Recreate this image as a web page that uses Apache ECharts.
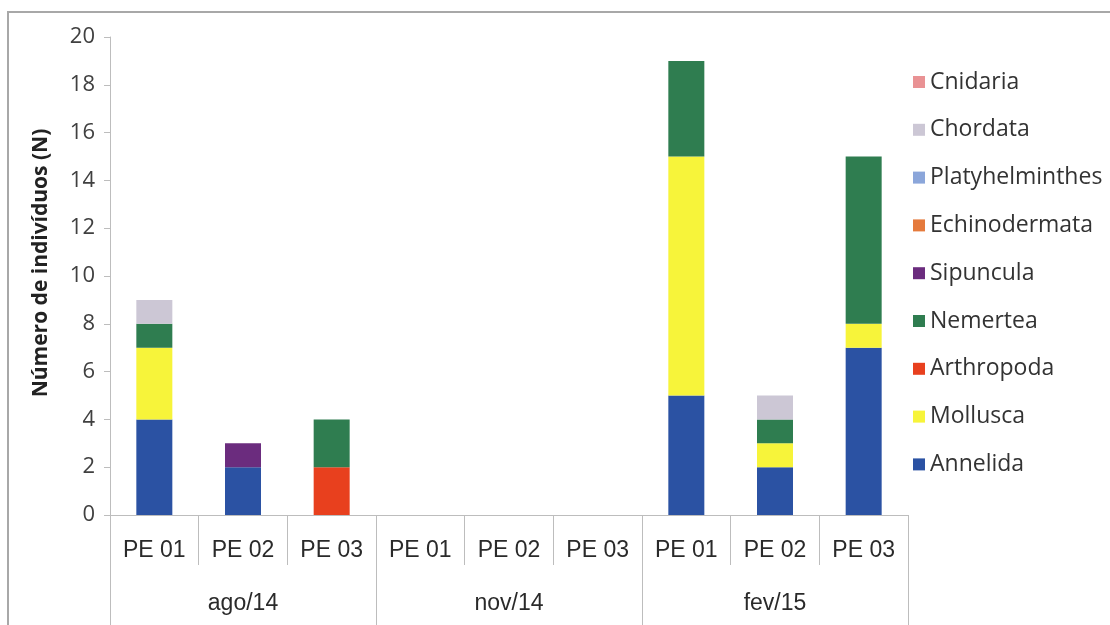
<!DOCTYPE html>
<html>
<head>
<meta charset="utf-8">
<script src="https://cdn.jsdelivr.net/npm/echarts@6/dist/echarts.min.js"></script>
<style>html,body{margin:0;padding:0;background:#fff}#c{width:1110px;height:625px}</style>
</head>
<body>
<div id="c"></div>
<script>
const stations = ['PE 01','PE 02','PE 03','PE 01','PE 02','PE 03','PE 01','PE 02','PE 03'];
const campaigns = ['ago/14','nov/14','fev/15'];
const yTicks = {min: 0, max: 20, interval: 2};
const yTitle = 'Número de indivíduos (N)';

const annelida        = [4, 2, 0, 0, 0, 0, 5, 2, 7];
const mollusca        = [3, 0, 0, 0, 0, 0, 10, 1, 1];
const arthropoda      = [0, 0, 2, 0, 0, 0, 0, 0, 0];
const nemertea        = [1, 0, 2, 0, 0, 0, 4, 1, 7];
const sipuncula       = [0, 1, 0, 0, 0, 0, 0, 0, 0];
const echinodermata   = [0, 0, 0, 0, 0, 0, 0, 0, 0];
const platyhelminthes = [0, 0, 0, 0, 0, 0, 0, 0, 0];
const chordata        = [1, 0, 0, 0, 0, 0, 0, 1, 0];
const cnidaria        = [0, 0, 0, 0, 0, 0, 0, 0, 0];

const seriesDefs = [
  ['Annelida', annelida, '#2B52A3'],
  ['Mollusca', mollusca, '#F7F43A'],
  ['Arthropoda', arthropoda, '#E8401E'],
  ['Nemertea', nemertea, '#2F7D50'],
  ['Sipuncula', sipuncula, '#6B2C7E'],
  ['Echinodermata', echinodermata, '#E57A3C'],
  ['Platyhelminthes', platyhelminthes, '#8BA6DA'],
  ['Chordata', chordata, '#CCC7D5'],
  ['Cnidaria', cnidaria, '#E99294']
];

const axisGray = '#BDBDBD';
const textCol = '#404040';
const chart = echarts.init(document.getElementById('c'), null, {renderer: 'canvas'});
chart.setOption({
  animation: false,
  backgroundColor: '#fff',
  graphic: [{
    type: 'rect', silent: true, z: -1,
    shape: {x: 8, y: 12, width: 1130, height: 640},
    style: {fill: 'none', stroke: '#A8A8A8', lineWidth: 2}
  }],
  grid: {left: 110, right: 202, top: 37, bottom: 110, containLabel: false, outerBoundsMode: 'none'},
  legend: {
    orient: 'vertical', left: 908, top: 65,
    itemWidth: 12, itemHeight: 12, itemGap: 23.8,
    icon: 'rect',
    data: seriesDefs.map(d => d[0]).reverse(),
    textStyle: {fontFamily: 'Open Sans', fontSize: 23, color: '#333', lineHeight: 24}
  },
  xAxis: [{
    type: 'category', data: stations, position: 'bottom',
    axisLine: {show: true, lineStyle: {color: axisGray, width: 1}},
    axisTick: {show: true, interval: 0, length: 50, lineStyle: {color: axisGray}},
    axisLabel: {interval: 0, margin: 24, fontFamily: 'Liberation Sans', fontSize: 23, color: '#2a2a2a'}
  }, {
    type: 'category', data: campaigns, position: 'bottom', offset: 50,
    axisLine: {show: false},
    axisTick: {show: true, interval: 0, length: 70, lineStyle: {color: axisGray}},
    axisLabel: {interval: 0, margin: 27, fontFamily: 'Liberation Sans', fontSize: 23, color: '#2a2a2a'}
  }],
  yAxis: {
    type: 'value', min: yTicks.min, max: yTicks.max, interval: yTicks.interval,
    name: yTitle, nameLocation: 'middle', nameGap: 58, nameRotate: 90,
    nameTextStyle: {fontFamily: 'Open Sans', fontWeight: 'bold', fontSize: 21, color: '#222', padding: [0, 0, 0, 26]},
    axisLine: {show: true, lineStyle: {color: axisGray}},
    axisTick: {show: true, length: 6, lineStyle: {color: axisGray}},
    axisLabel: {margin: 15, fontFamily: 'Open Sans', fontSize: 22, color: textCol},
    splitLine: {show: false}
  },
  series: seriesDefs.map(d => ({
    name: d[0], type: 'bar', stack: 'total', xAxisIndex: 0,
    data: d[1], barWidth: 36,
    itemStyle: {color: d[2]}
  }))
});
</script>
</body>
</html>
